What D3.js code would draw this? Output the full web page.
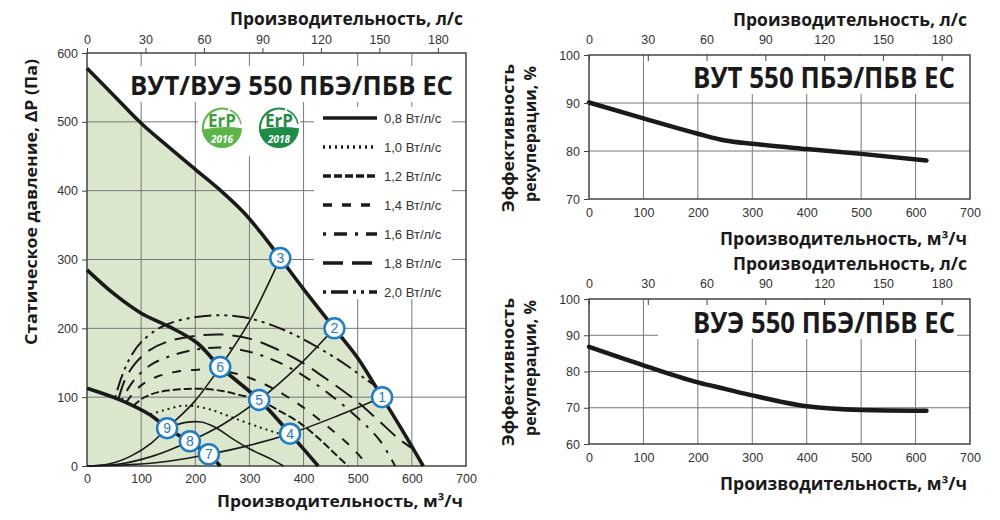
<!DOCTYPE html>
<html>
<head>
<meta charset="utf-8">
<script src="https://cdn.jsdelivr.net/npm/d3@7"></script>
<style>
    body { margin: 0; background: #fff; }
    svg { display: block; font-family: "Liberation Sans", Arial, sans-serif; }
    .axis text { font-size: 12.5px; fill: #333; font-family: "Liberation Sans", Arial, sans-serif; }
    .axis line { stroke: #444; }
    .axis path { display: none; }
    .ttl { font-family: "Open Sans", sans-serif; font-weight: 700; fill: #1a1a1a; }
    .grid line { stroke: #777; stroke-width: 1; }
</style>
</head>
<body>
<svg id="chart" width="1000" height="520"></svg>
<script>
// ---- data (flow in m3/h, pressure in Pa, efficiency in %) ----
const flowTicks = [0, 100, 200, 300, 400, 500, 600, 700];
const flowTicksLs = [0, 30, 60, 90, 120, 150, 180];
const pressureTicks = [0, 100, 200, 300, 400, 500, 600];

// fan curves (thick black)
const fanMax = [[0, 578], [50, 538], [100, 498], [150, 464], [200, 431], [250, 398], [290, 368], [320, 340], [357, 302], [400, 257], [457, 200], [500, 157], [545, 100], [580, 55], [621, 0]];
const fanMid = [[0, 285], [50, 250], [100, 222], [153, 202], [203, 179], [246, 144], [318, 96], [375, 47], [427, 0]];
const fanMin = [[0, 113], [61, 96], [117, 74], [148, 55], [190, 35], [225, 17], [246, 0]];

// network curves (thin black, from origin)
const netA = [[0, 0], [40, 3], [80, 14], [120, 34], [148, 55], [200, 95], [246, 144], [300, 210], [357, 302]];
const netB = [[0, 0], [60, 3], [120, 14], [190, 36], [250, 60], [318, 96], [390, 145], [457, 200]];
const netC = [[0, 0], [80, 2], [150, 7], [225, 17], [300, 30], [375, 47], [460, 72], [545, 100]];

// specific fan power isolines
const sfpLabels = ["0,8 Вт/л/с", "1,0 Вт/л/с", "1,2 Вт/л/с", "1,4 Вт/л/с", "1,6 Вт/л/с", "1,8 Вт/л/с", "2,0 Вт/л/с"];
const sfp08 = [[150, 56], [180, 63], [210, 64], [235, 57], [270, 39], [300, 25], [340, 10], [363, 0]];
const sfp10 = [[117, 75], [142, 81], [172, 87], [197, 87], [228, 82], [270, 70], [320, 56], [351, 48], [372, 44]];
const sfp12 = [[85, 87], [100, 97], [115, 103], [130, 107], [153, 110], [184, 112], [216, 112], [250, 109], [283, 103], [320, 95], [351, 82], [394, 62], [431, 38], [455, 20], [482, 0]];
const sfp14 = [[72, 92], [88, 108], [105, 120], [130, 130], [165, 137], [205, 140], [245, 139], [285, 132], [325, 120], [365, 103], [405, 82], [445, 57], [485, 30], [520, 0]];
const sfp16 = [[64, 95], [78, 115], [95, 132], [120, 148], [155, 160], [200, 169], [250, 172], [300, 166], [350, 152], [400, 131], [450, 103], [500, 70], [540, 38], [569, 0]];
const sfp18 = [[58, 97], [70, 125], [88, 148], [115, 168], [150, 181], [200, 189], [250, 191], [300, 185], [350, 170], [400, 149], [450, 122], [500, 93], [540, 65], [575, 40], [600, 26]];
const sfp20 = [[52, 99], [62, 125], [78, 155], [100, 180], [140, 203], [190, 215], [240, 219], [290, 216], [340, 205], [390, 188], [440, 166], [480, 146], [515, 126], [530, 118]];

// numbered operating points
const pointNums = [1, 2, 3, 4, 5, 6, 7, 8, 9];
const pointFlow = [545, 457, 357, 375, 318, 246, 225, 190, 148];
const pointPres = [100, 200, 302, 47, 96, 144, 17, 36, 55];

// heat recovery efficiency
const effFlow = [0, 100, 200, 250, 300, 400, 500, 620];
const effVut = [90.1, 86.8, 83.6, 82.2, 81.5, 80.4, 79.4, 78.0];
const effVue = [86.8, 81.7, 77.0, 75.2, 73.4, 70.4, 69.4, 69.2];
const effTicksVut = [70, 80, 90, 100];
const effTicksVue = [60, 70, 80, 90, 100];

// ---- setup ----
var svg = d3.select("#chart");
var green = "#dbe7cc", blue = "#1f7cc7";
var sfpDash = ["none", "2,4", "8,3", "9,10", "3,8,13,8", "20,9", "3,5,17,5,3,5"];

// ================= left chart: pressure vs flow =================
var L = { left: 87, right: 466, top: 53, bottom: 466 };
var x = d3.scaleLinear().domain([0, 700]).range([L.left, L.right]);
var xLs = d3.scaleLinear().domain([0, 700 / 3.6]).range([L.left, L.right]);
var y = d3.scaleLinear().domain([0, 600]).range([L.bottom, L.top]);

var left = svg.append("g");
var smooth = d3.curveCatmullRom.alpha(0.5);

// working area under the max fan curve
left.append("path")
    .datum(fanMax)
    .attr("fill", green)
    .attr("d", d3.area().x(d => x(d[0])).y0(y(0)).y1(d => y(d[1])).curve(smooth));

// grid
var lg = left.append("g").attr("class", "grid");
lg.selectAll(".v").data(flowTicks.slice(1, -1)).join("line")
    .attr("x1", d => x(d)).attr("x2", d => x(d)).attr("y1", L.top).attr("y2", L.bottom);
lg.selectAll(".h").data(pressureTicks.slice(1, -1)).join("line")
    .attr("x1", L.left).attr("x2", L.right).attr("y1", d => y(d)).attr("y2", d => y(d));

// white boxes behind title, logos and legend
left.append("rect").attr("x", 122).attr("y", 66).attr("width", 338).attr("height", 36).attr("fill", "#fff");
left.append("rect").attr("x", 198).attr("y", 102).attr("width", 102).attr("height", 54).attr("fill", "#fff");
left.append("rect").attr("x", 314).attr("y", 107).attr("width", 138).attr("height", 192).attr("fill", "#fff");

// frame
left.append("rect")
    .attr("x", L.left).attr("y", L.top).attr("width", L.right - L.left).attr("height", L.bottom - L.top)
    .attr("fill", "none").attr("stroke", "#444").attr("stroke-width", 1.5);

// network curves
left.selectAll(".net").data([netA, netB, netC]).join("path")
    .attr("fill", "none").attr("stroke", "#1a1a1a").attr("stroke-width", 1.6)
    .attr("d", d3.line().x(d => x(d[0])).y(d => y(d[1])).curve(d3.curveMonotoneX));

// SFP isolines
var sfpSeries = [sfp08, sfp10, sfp12, sfp14, sfp16, sfp18, sfp20];
left.selectAll(".sfp").data(sfpSeries).join("path")
    .attr("fill", "none").attr("stroke", "#1a1a1a")
    .attr("stroke-width", (d, i) => i == 0 ? 1.6 : 2)
    .attr("stroke-dasharray", (d, i) => sfpDash[i])
    .attr("d", d3.line().x(d => x(d[0])).y(d => y(d[1])).curve(smooth));

// fan curves
left.selectAll(".fan").data([fanMax, fanMid, fanMin]).join("path")
    .attr("fill", "none").attr("stroke", "#1a1a1a").attr("stroke-width", 3.6)
    .attr("d", d3.line().x(d => x(d[0])).y(d => y(d[1])).curve(smooth));

// numbered markers
var mk = left.selectAll(".mk").data(pointNums).join("g")
    .attr("transform", (d, i) => `translate(${x(pointFlow[i])}, ${y(pointPres[i])})`);
mk.append("circle").attr("r", 10).attr("fill", "#fff").attr("stroke", blue).attr("stroke-width", 2.5);
mk.append("text").attr("text-anchor", "middle").attr("dy", "0.36em")
    .style("font-size", "14px").attr("fill", blue).text(d => d);

// title
left.append("text").attr("class", "ttl")
    .attr("x", 130).attr("y", 95).style("font-size", "26px")
    .attr("textLength", 323).attr("lengthAdjust", "spacingAndGlyphs")
    .text("ВУТ/ВУЭ 550 ПБЭ/ПБВ ЕС");

// ErP logos
[["2016", "#5db548", "#3e9e3b", 222], ["2018", "#1d8c45", "#238a3f", 279]].forEach(function (e, i) {
    var g = left.append("g").attr("transform", `translate(${e[3]}, 128)`);
    g.append("clipPath").attr("id", "erp" + i).append("circle").attr("r", 20);
    g.append("circle").attr("r", 20).attr("fill", "#fff");
    g.append("path").attr("clip-path", `url(#erp${i})`).attr("fill", e[1])
        .attr("d", "M-24,3 Q-2,-4 24,1 L24,24 L-24,24 Z");
    g.append("path").attr("fill", "none").attr("stroke", e[1]).attr("stroke-width", 2)
        .attr("d", "M-17,8 A19,19 0 0 1 6,-18.5");
    g.append("path").attr("fill", "none").attr("stroke", e[1]).attr("stroke-width", 1.5)
        .attr("d", "M8,-18 A19,19 0 0 1 19,-4");
    g.append("text").attr("text-anchor", "middle").attr("y", -1)
        .style("font-family", "'Open Sans', sans-serif").style("font-weight", 700).style("font-size", "17px")
        .attr("fill", e[2]).text("ErP");
    g.append("text").attr("text-anchor", "middle").attr("y", 15)
        .style("font-family", "'Open Sans', sans-serif").style("font-weight", 700).style("font-style", "italic")
        .style("font-size", "10px").attr("fill", "#fff").text(e[0]);
});

// legend
var leg = left.selectAll(".leg").data(sfpLabels).join("g")
    .attr("transform", (d, i) => `translate(323, ${118 + i * 29})`);
leg.append("line").attr("x1", 0).attr("x2", 54)
    .attr("stroke", "#1a1a1a").attr("stroke-width", 3.5)
    .attr("stroke-dasharray", (d, i) => sfpDash[i]);
leg.append("text").attr("x", 61).attr("dy", "0.35em")
    .style("font-size", "13px").attr("fill", "#333").text(d => d);

// axes
left.append("g").attr("class", "axis")
    .attr("transform", `translate(0, ${L.bottom})`)
    .call(d3.axisBottom(x).tickValues(flowTicks).tickSize(0).tickPadding(8));
left.append("g").attr("class", "axis")
    .attr("transform", `translate(0, ${L.top})`)
    .call(d3.axisTop(xLs).tickValues(flowTicksLs).tickSize(5).tickPadding(4));
left.append("g").attr("class", "axis")
    .attr("transform", `translate(${L.left}, 0)`)
    .call(d3.axisLeft(y).tickValues(pressureTicks).tickSize(5).tickPadding(4));

left.append("text").attr("class", "ttl").attr("text-anchor", "end")
    .attr("x", 463).attr("y", 25).style("font-size", "17px")
    .attr("textLength", 233).attr("lengthAdjust", "spacingAndGlyphs")
    .text("Производительность, л/с");
left.append("text").attr("class", "ttl").attr("text-anchor", "end")
    .attr("x", 463).attr("y", 507).style("font-size", "16px")
    .attr("textLength", 246).attr("lengthAdjust", "spacingAndGlyphs")
    .text("Производительность, м³/ч");
left.append("text").attr("class", "ttl").attr("text-anchor", "middle")
    .attr("transform", "translate(37, 202) rotate(-90)").style("font-size", "16px")
    .attr("textLength", 286).attr("lengthAdjust", "spacingAndGlyphs")
    .text("Статическое давление, ΔP (Па)");

// ================= right charts: efficiency vs flow =================
function effChart(top, bottom, ticks, values, title, titleBox, ttlY, labelY) {
    var xr = d3.scaleLinear().domain([0, 700]).range([589, 970]);
    var xrLs = d3.scaleLinear().domain([0, 700 / 3.6]).range([589, 970]);
    var yr = d3.scaleLinear().domain([ticks[0], ticks[ticks.length - 1]]).range([bottom, top]);
    var g = svg.append("g");

    var gg = g.append("g").attr("class", "grid");
    gg.selectAll(".v").data(flowTicks.slice(1, -1)).join("line")
        .attr("x1", d => xr(d)).attr("x2", d => xr(d)).attr("y1", top).attr("y2", bottom);
    gg.selectAll(".h").data(ticks.slice(1, -1)).join("line")
        .attr("x1", 589).attr("x2", 970).attr("y1", d => yr(d)).attr("y2", d => yr(d));

    // white box behind the model name
    g.append("rect").attr("x", titleBox[0]).attr("y", top + 1)
        .attr("width", titleBox[1] - titleBox[0]).attr("height", titleBox[2] - top).attr("fill", "#fff");

    g.append("rect").attr("x", 589).attr("y", top).attr("width", 381).attr("height", bottom - top)
        .attr("fill", "none").attr("stroke", "#444").attr("stroke-width", 1.5);

    g.append("path")
        .datum(effFlow.map((f, i) => [f, values[i]]))
        .attr("fill", "none").attr("stroke", "#1a1a1a").attr("stroke-width", 4.5).attr("stroke-linecap", "round")
        .attr("d", d3.line().x(d => xr(d[0])).y(d => yr(d[1])).curve(d3.curveMonotoneX));

    g.append("g").attr("class", "axis").attr("transform", `translate(0, ${bottom})`)
        .call(d3.axisBottom(xr).tickValues(flowTicks).tickSize(0).tickPadding(9));
    g.append("g").attr("class", "axis").attr("transform", `translate(0, ${top})`)
        .call(d3.axisTop(xrLs).tickValues(flowTicksLs).tickSize(-6).tickPadding(11));
    g.append("g").attr("class", "axis").attr("transform", "translate(589, 0)")
        .call(d3.axisLeft(yr).tickValues(ticks).tickSize(5).tickPadding(4));

    g.append("text").attr("class", "ttl")
        .attr("x", 693).attr("y", ttlY).style("font-size", "28px")
        .attr("textLength", 262).attr("lengthAdjust", "spacingAndGlyphs")
        .text(title);

    g.append("text").attr("class", "ttl").attr("text-anchor", "end")
        .attr("x", 967).attr("y", top - 29).style("font-size", "17px")
        .attr("textLength", 234).attr("lengthAdjust", "spacingAndGlyphs")
        .text("Производительность, л/с");
    g.append("text").attr("class", "ttl").attr("text-anchor", "end")
        .attr("x", 967).attr("y", bottom + 46).style("font-size", "17px")
        .attr("textLength", 247).attr("lengthAdjust", "spacingAndGlyphs")
        .text("Производительность, м³/ч");

    g.append("text").attr("class", "ttl").attr("text-anchor", "middle")
        .attr("transform", `translate(514, ${labelY}) rotate(-90)`).style("font-size", "16px")
        .attr("textLength", 148).attr("lengthAdjust", "spacingAndGlyphs")
        .text("Эффективность");
    g.append("text").attr("class", "ttl").attr("text-anchor", "middle")
        .attr("transform", `translate(536, ${labelY - 4}) rotate(-90)`).style("font-size", "16px")
        .attr("textLength", 136).attr("lengthAdjust", "spacingAndGlyphs")
        .text("рекуперации, %");
}

effChart(55, 199, effTicksVut, effVut, "ВУТ 550 ПБЭ/ПБВ ЕС", [680, 960, 93], 88, 138);
effChart(299, 444, effTicksVue, effVue, "ВУЭ 550 ПБЭ/ПБВ ЕС", [658, 957, 338], 333, 372);
</script>
</body>
</html>
